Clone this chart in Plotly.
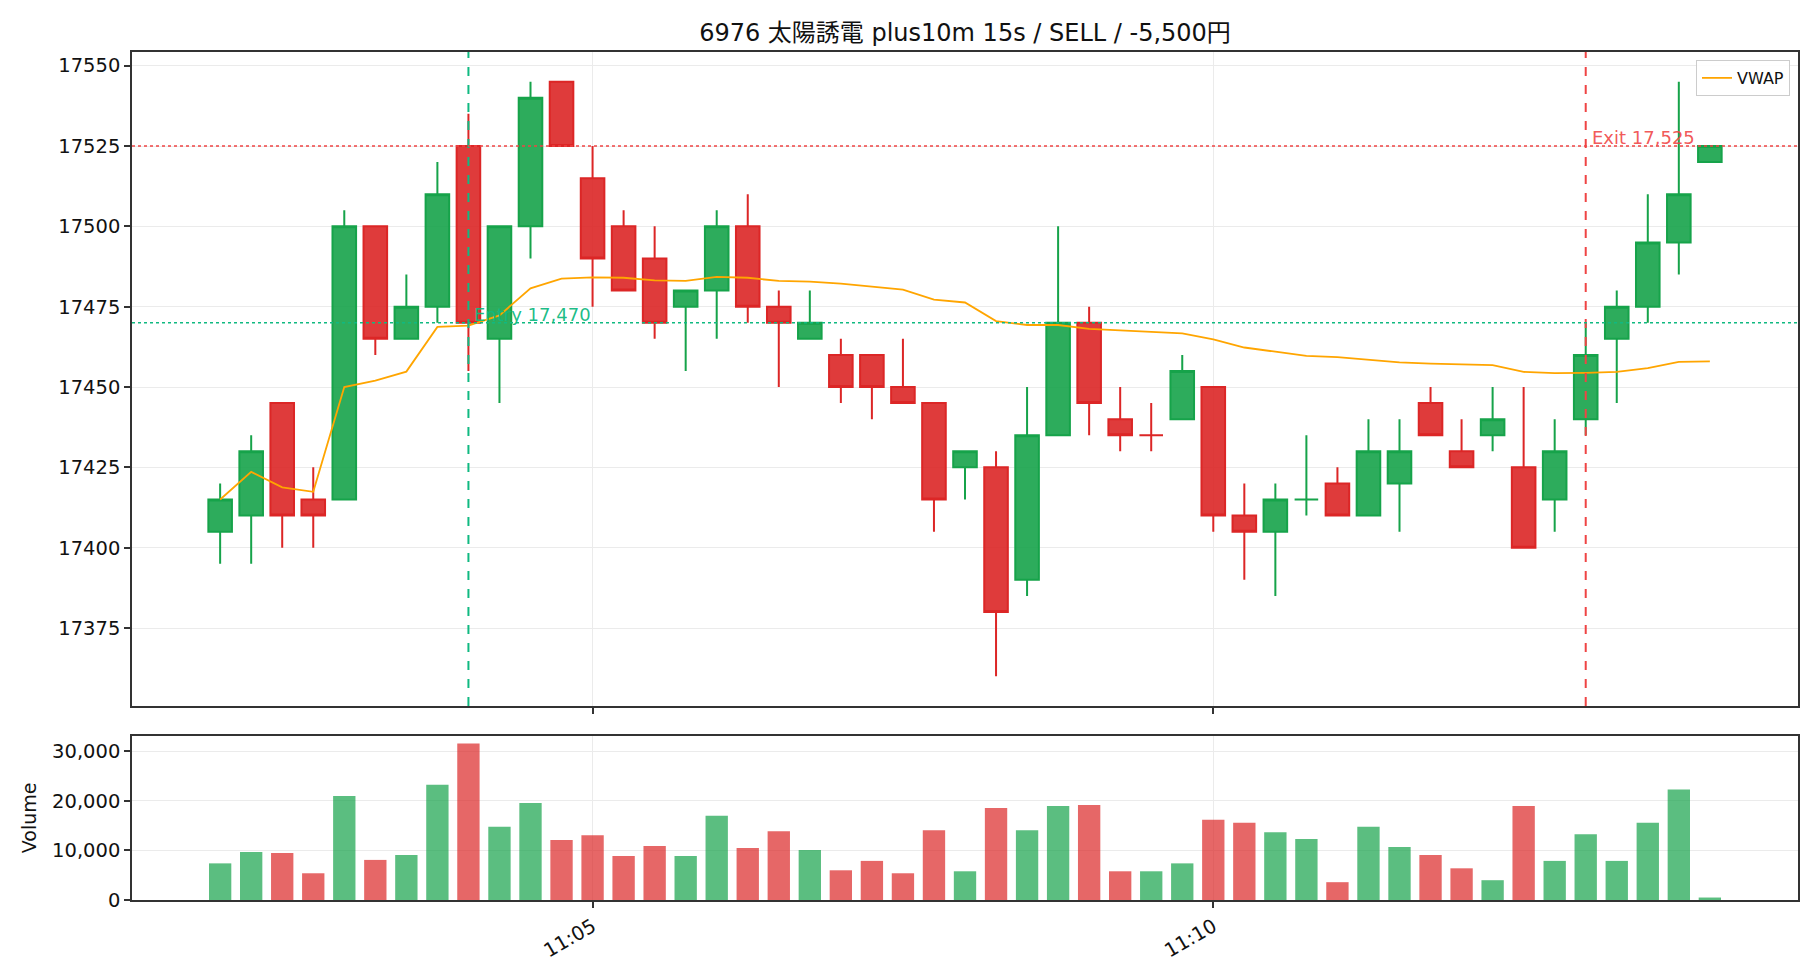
import pandas as pd
import plotly.graph_objects as go

# ---- data (15s bars, 11:02:00 - 11:14:00) ----
start_time = "2024-01-01 11:02:00"
opens  = [17405, 17410, 17445, 17415, 17415, 17500, 17465, 17475, 17525, 17465,
          17500, 17545, 17515, 17500, 17490, 17475, 17480, 17500, 17475, 17465,
          17460, 17460, 17450, 17445, 17425, 17425, 17390, 17435, 17470, 17440,
          17435, 17440, 17450, 17410, 17405, 17415, 17420, 17410, 17420, 17445,
          17430, 17435, 17425, 17415, 17440, 17465, 17475, 17495, 17520]
highs  = [17420, 17435, 17445, 17425, 17505, 17500, 17485, 17520, 17535, 17500,
          17545, 17545, 17525, 17505, 17500, 17480, 17505, 17510, 17480, 17480,
          17465, 17460, 17465, 17445, 17430, 17430, 17450, 17500, 17475, 17450,
          17445, 17460, 17450, 17420, 17420, 17435, 17425, 17440, 17440, 17450,
          17440, 17450, 17450, 17440, 17470, 17480, 17510, 17545, 17525]
lows   = [17395, 17395, 17400, 17400, 17415, 17460, 17465, 17470, 17455, 17445,
          17490, 17525, 17475, 17480, 17465, 17455, 17465, 17470, 17450, 17465,
          17445, 17440, 17445, 17405, 17415, 17360, 17385, 17435, 17435, 17430,
          17430, 17440, 17405, 17390, 17385, 17410, 17410, 17410, 17405, 17435,
          17425, 17430, 17400, 17405, 17435, 17445, 17470, 17485, 17520]
closes = [17415, 17430, 17410, 17410, 17500, 17465, 17475, 17510, 17470, 17500,
          17540, 17525, 17490, 17480, 17470, 17480, 17500, 17475, 17470, 17470,
          17450, 17450, 17445, 17415, 17430, 17380, 17435, 17470, 17445, 17435,
          17435, 17455, 17410, 17405, 17415, 17415, 17410, 17430, 17430, 17435,
          17425, 17440, 17400, 17430, 17460, 17475, 17495, 17510, 17525]
volumes = [7400, 9700, 9500, 5400, 21000, 8100, 9100, 23300, 31600, 14800,
           19600, 12100, 13100, 8900, 10900, 8900, 17000, 10500, 13900, 10100,
           6000, 7900, 5400, 14100, 5800, 18600, 14100, 19000, 19200, 5800,
           5800, 7400, 16200, 15600, 13700, 12300, 3600, 14800, 10700, 9100,
           6400, 4000, 19000, 7900, 13300, 7900, 15600, 22300, 500]
vwap = [17415.0, 17423.6, 17418.8, 17417.4, 17450.0, 17452.0, 17454.8, 17468.7, 17469.1, 17472.3,
        17480.7, 17483.7, 17484.1, 17484.0, 17483.2, 17483.0, 17484.3, 17484.0, 17483.0, 17482.8,
        17482.2, 17481.3, 17480.3, 17477.2, 17476.3, 17470.5, 17469.3, 17469.3, 17468.1, 17467.6,
        17467.2, 17466.7, 17464.8, 17462.3, 17461.0, 17459.7, 17459.3, 17458.4, 17457.7, 17457.3,
        17457.0, 17456.8, 17454.7, 17454.3, 17454.4, 17454.7, 17455.9, 17457.8, 17458.0]

entry_time, entry_price = "2024-01-01 11:04:00", 17470
exit_time, exit_price = "2024-01-01 11:13:00", 17525
title_text = "6976 太陽誘電 plus10m 15s / SELL / -5,500円"
x_range = ["2024-01-01 11:01:17.4", "2024-01-01 11:14:42.6"]
price_ticks = [17375, 17400, 17425, 17450, 17475, 17500, 17525, 17550]
vol_ticks = [0, 10000, 20000, 30000]

times = pd.date_range(start_time, periods=len(opens), freq="15s")

GREEN = "#16a34a"
RED = "#dc2626"
ENTRY_C = "#10b981"
EXIT_C = "#ef4444"
FONT = "DejaVu Sans, Noto Sans CJK JP, sans-serif"

vol_colors = ["rgba(22,163,74,0.7)" if c >= o else "rgba(220,38,38,0.7)"
              for o, c in zip(opens, closes)]

fig = go.Figure()
fig.add_trace(go.Candlestick(
    x=times, open=opens, high=highs, low=lows, close=closes,
    increasing=dict(line=dict(color=GREEN, width=2), fillcolor="rgba(22,163,74,0.9)"),
    decreasing=dict(line=dict(color=RED, width=2), fillcolor="rgba(220,38,38,0.9)"),
    whiskerwidth=0, showlegend=False, xaxis="x", yaxis="y", name="price"))
fig.add_trace(go.Scatter(
    x=times, y=vwap, mode="lines", name="VWAP",
    line=dict(color="orange", width=1.8), xaxis="x", yaxis="y"))
fig.add_trace(go.Bar(
    x=times, y=volumes, marker=dict(color=vol_colors, line=dict(width=0)),
    width=10800, showlegend=False, xaxis="x2", yaxis="y2", name="Volume"))

axis_common = dict(showline=True, linecolor="#333333", linewidth=1.5, mirror=True,
                   ticks="outside", ticklen=6, tickwidth=1.5, tickcolor="#333333",
                   showgrid=True, gridcolor="#ebebeb", gridwidth=1, zeroline=False,
                   tickfont=dict(size=19.5, color="#111111", family=FONT))

shapes = [
    dict(type="line", xref="x", yref="y domain", x0=entry_time, x1=entry_time, y0=0, y1=1,
         line=dict(color=ENTRY_C, width=2, dash="dash"), layer="above"),
    dict(type="line", xref="x", yref="y domain", x0=exit_time, x1=exit_time, y0=0, y1=1,
         line=dict(color=EXIT_C, width=2, dash="dash"), layer="above"),
    dict(type="line", xref="x domain", yref="y", x0=0, x1=1, y0=entry_price, y1=entry_price,
         line=dict(color=ENTRY_C, width=1.5, dash="dot"), layer="above"),
    dict(type="line", xref="x domain", yref="y", x0=0, x1=1, y0=exit_price, y1=exit_price,
         line=dict(color=EXIT_C, width=1.5, dash="dot"), layer="above"),
]
annotations = [
    dict(x=entry_time, y=entry_price, xref="x", yref="y", text=f"Entry {entry_price:,}",
         showarrow=False, xanchor="left", yanchor="bottom", xshift=4, yshift=-4,
         font=dict(size=18, color="rgba(16,185,129,0.95)", family=FONT)),
    dict(x=exit_time, y=exit_price, xref="x", yref="y", text=f"Exit {exit_price:,}",
         showarrow=False, xanchor="left", yanchor="bottom", xshift=4, yshift=-4,
         font=dict(size=18, color="rgba(239,68,68,0.9)", family=FONT)),
]

fig.update_layout(
    width=1820, height=980,
    margin=dict(l=132, r=22, t=52, b=80),
    paper_bgcolor="white", plot_bgcolor="white",
    font=dict(family=FONT, size=19, color="#111111"),
    title=dict(text=title_text, x=(132 + 1798) / 2 / 1820, xanchor="center",
               y=1 - 33 / 980, yanchor="middle",
               font=dict(size=24, color="#111111", family=FONT)),
    boxgap=0.24, boxgroupgap=0,
    showlegend=True,
    legend=dict(x=0.9952, y=0.9906, xanchor="right", yanchor="top",
                bgcolor="rgba(255,255,255,0.9)", bordercolor="#cccccc", borderwidth=1,
                font=dict(size=16, family=FONT, color="#111111")),
    xaxis=dict(axis_common, domain=[0, 1], anchor="y", type="date", range=x_range,
               tick0="2024-01-01 11:00:00", dtick=300000, showticklabels=False,
               rangeslider=dict(visible=False)),
    yaxis=dict(axis_common, domain=[0.2288, 1], anchor="x",
               range=[17350.75, 17554.25], tickmode="array", tickvals=price_ticks,
               ticktext=[str(v) for v in price_ticks]),
    xaxis2=dict(axis_common, domain=[0, 1], anchor="y2", type="date", range=x_range,
                matches="x", tick0="2024-01-01 11:00:00", dtick=300000,
                tickformat="%H:%M", tickangle=-30),
    yaxis2=dict(axis_common, domain=[0, 0.1938], anchor="x2", range=[0, 33200],
                tickmode="array", tickvals=vol_ticks,
                ticktext=[f"{v:,}" for v in vol_ticks],
                title=dict(text="Volume", font=dict(size=19, family=FONT), standoff=10)),
    shapes=shapes, annotations=annotations,
    bargap=0.3,
)

fig.write_html("out.html")
